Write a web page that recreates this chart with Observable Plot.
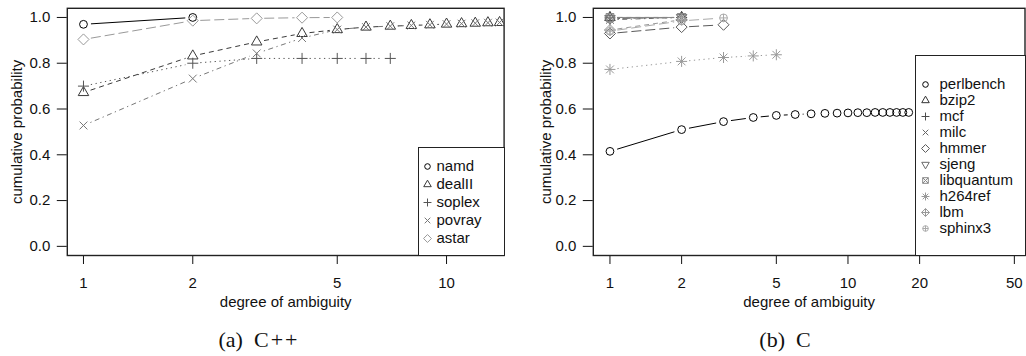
<!DOCTYPE html>
<html><head><meta charset="utf-8">
<script src="https://cdn.jsdelivr.net/npm/d3@7"></script>
<script src="https://cdn.jsdelivr.net/npm/@observablehq/plot@0.6"></script>
<style>
html,body{margin:0;padding:0;background:#fff;}
body{width:1026px;height:356px;overflow:hidden;position:relative;font-family:"Liberation Sans",Arial,sans-serif;}
.panel{position:absolute;top:0;}
.caption{position:absolute;top:325px;width:240px;text-align:center;font-family:"Liberation Serif",serif;font-size:22px;line-height:30px;color:#111;}
.caption .w{letter-spacing:2px;}
.legend{position:absolute;background:#fff;border:1.3px solid #222;box-sizing:border-box;}
.legend svg{display:block;}
</style></head><body>
<div id="left" class="panel" style="left:0"></div>
<div id="right" class="panel" style="left:513px"></div>
<div class="caption" style="left:139px">(a)&nbsp;&nbsp;<span class="w">C++</span></div>
<div class="caption" style="left:665px">(b)&nbsp;&nbsp;C</div>
<div id="legL" class="legend" style="left:418px;top:147px;width:87px;height:109px"></div>
<div id="legR" class="legend" style="left:915px;top:55px;width:111px;height:201px"></div>
<script>
// ---------- data ----------
const cppNames = ["namd", "dealII", "soplex", "povray", "astar"];
const cppDegrees = [1, 2, 3, 4, 5, 6, 7, 8, 9, 10, 11, 12, 13, 14];
const namd   = [0.970, 1.000];
const dealII = [0.672, 0.832, 0.893, 0.930, 0.947, 0.958, 0.962, 0.965, 0.968, 0.971, 0.973, 0.975, 0.977, 0.978];
const soplex = [0.700, 0.800, 0.821, 0.821, 0.821, 0.821, 0.821];
const povray = [0.528, 0.733, 0.843, 0.910, 0.947, 0.958, 0.962, 0.965, 0.968, 0.971, 0.973, 0.975, 0.977, 0.978];
const astar  = [0.904, 0.986, 0.996, 0.999, 1.000];

const cNames = ["perlbench", "bzip2", "mcf", "milc", "hmmer", "sjeng", "libquantum", "h264ref", "lbm", "sphinx3"];
const cDegrees = [1, 2, 3, 4, 5, 6, 7, 8, 9, 10, 11, 12, 13, 14, 15, 16, 17, 18];
const perlbench  = [0.415, 0.510, 0.545, 0.563, 0.572, 0.576, 0.579, 0.581, 0.582, 0.583, 0.584, 0.584, 0.585, 0.585, 0.585, 0.585, 0.585, 0.585];
const bzip2      = [1.000, 1.000];
const mcf        = [0.998, 1.000];
const milc       = [0.990, 1.000];
const hmmer      = [0.930, 0.958, 0.968];
const sjeng      = [0.995, 1.000];
const libquantum = [1.000, 1.000];
const h264ref    = [0.773, 0.808, 0.825, 0.832, 0.837];
const lbm        = [0.945, 0.990];
const sphinx3    = [0.940, 0.985, 0.998];

const yTicks = [0, 0.2, 0.4, 0.6, 0.8, 1.0];
const cppXTicks = [1, 2, 5, 10];
const cXTicks = [1, 2, 5, 10, 20, 50];
const xLabel = "degree of ambiguity";
const yLabel = "cumulative probability";

// ---------- styles ----------
const cppColors = ["#000000", "#3a3a3a", "#555555", "#777777", "#999999"];
const cppDash   = [null, "5,4", "1.3,3.5", "1.3,3.5,5,3.5", "10,4"];
const cColors   = ["#000000", "#333333", "#4d4d4d", "#666666", "#5a5a5a", "#6a6a6a", "#888888", "#999999", "#999999", "#aaaaaa"];
const cDash     = [null, "5,4", "1.3,3.5", "1.3,3.5,5,3.5", "10,4", "2.6,2.6,8,2.6", null, "1.3,3.5", "5,4", "10,4"];

// R-like plotting symbols
const T0 = Math.sqrt(4 * Math.PI / (3 * Math.sqrt(3))), T1 = T0 * Math.sqrt(3) / 2, T2 = T0 / 2;
const rad = s => Math.sqrt(s / Math.PI);
function circ(c, r) { c.moveTo(r, 0); c.arc(0, 0, r, 0, 2 * Math.PI); }
function plusP(c, r) { c.moveTo(-r, 0); c.lineTo(r, 0); c.moveTo(0, -r); c.lineTo(0, r); }
function timesP(c, r) { c.moveTo(-r, -r); c.lineTo(r, r); c.moveTo(-r, r); c.lineTo(r, -r); }
function diamP(c, r) { c.moveTo(0, -r); c.lineTo(r, 0); c.lineTo(0, r); c.lineTo(-r, 0); c.closePath(); }
const pch = {
  circle:   {draw(c, s) { circ(c, rad(s)); }},
  triUp:    {draw(c, s) { const r = rad(s); c.moveTo(0, -T0 * r); c.lineTo(T1 * r, T2 * r); c.lineTo(-T1 * r, T2 * r); c.closePath(); }},
  plus:     {draw(c, s) { plusP(c, rad(s) * Math.SQRT2); }},
  times:    {draw(c, s) { timesP(c, rad(s)); }},
  diamond:  {draw(c, s) { diamP(c, rad(s) * Math.SQRT2); }},
  triDown:  {draw(c, s) { const r = rad(s); c.moveTo(0, T0 * r); c.lineTo(T1 * r, -T2 * r); c.lineTo(-T1 * r, -T2 * r); c.closePath(); }},
  sqTimes:  {draw(c, s) { const r = rad(s); c.rect(-r, -r, 2 * r, 2 * r); timesP(c, r); }},
  aster:    {draw(c, s) { const r = rad(s); timesP(c, r); plusP(c, r * Math.SQRT2); }},
  diamPlus: {draw(c, s) { const r = rad(s) * Math.SQRT2; diamP(c, r); plusP(c, r); }},
  circPlus: {draw(c, s) { const r = rad(s); circ(c, r); plusP(c, r); }}
};
const cppSymbols = [pch.circle, pch.triUp, pch.plus, pch.times, pch.diamond];
const cSymbols = [pch.circle, pch.triUp, pch.plus, pch.times, pch.diamond, pch.triDown, pch.sqTimes, pch.aster, pch.diamPlus, pch.circPlus];

const FONT = "Liberation Sans, Arial, sans-serif";
const FS = "15px";
const SYM_R = 3.9;
const LEG_R = 2.8;
const GAP = 7.5;

function buildPanel(opt) {
  const {width, height, ml, mr, mt, mb, xDomain, yDomain, names, degrees, series, colors, dashes, symbols, xTicks, yTitleDx} = opt;
  const xs = d3.scaleLog().domain(xDomain).range([ml, width - mr]);
  const ys = d3.scaleLinear().domain(yDomain).range([height - mb, mt]);
  const rows = [];
  const marks = [];
  names.forEach((name, k) => {
    const vals = series[k];
    const pts = vals.map((v, i) => ({series: name, x: degrees[i], y: v}));
    rows.push(...pts);
    // line segments with gaps around points (R type = "b")
    const segs = [];
    for (let i = 0; i < pts.length - 1; i++) {
      const px0 = xs(pts[i].x), py0 = ys(pts[i].y), px1 = xs(pts[i + 1].x), py1 = ys(pts[i + 1].y);
      const dx = px1 - px0, dy = py1 - py0, d = Math.hypot(dx, dy);
      if (d > 2 * GAP) {
        const f = GAP / d;
        segs.push({x1: xs.invert(px0 + f * dx), y1: ys.invert(py0 + f * dy), x2: xs.invert(px1 - f * dx), y2: ys.invert(py1 - f * dy)});
      }
    }
    marks.push(Plot.link(segs, {x1: "x1", y1: "y1", x2: "x2", y2: "y2", stroke: colors[k], strokeWidth: 1, strokeDasharray: dashes[k] || undefined, clip: true}));
  });
  marks.push(Plot.dot(rows, {x: "x", y: "y", symbol: "series", stroke: "series", r: SYM_R, strokeWidth: 1, fill: "none", clip: true}));
  marks.push(Plot.axisY({ticks: yTicks, tickFormat: d3.format(".1f"), tickSize: 10, tickPadding: 7, label: null, stroke: "#111", fill: "#111"}));
  marks.push(Plot.axisX({ticks: xTicks, tickFormat: d3.format("d"), tickSize: 9, tickPadding: 13, label: null, stroke: "#111", fill: "#111"}));
  marks.push(Plot.frame({stroke: "#222", strokeWidth: 1.4}));
  marks.push(Plot.text([xLabel], {frameAnchor: "bottom", dy: 47, lineAnchor: "middle", textAnchor: "middle", fill: "#111"}));
  marks.push(Plot.text([yLabel], {frameAnchor: "left", dx: yTitleDx, rotate: -90, lineAnchor: "middle", textAnchor: "middle", fill: "#111"}));
  return Plot.plot({
    width, height, marginLeft: ml, marginRight: mr, marginTop: mt, marginBottom: mb,
    style: {fontFamily: FONT, fontSize: FS, background: "transparent", color: "#111", overflow: "visible"},
    x: {type: "log", domain: xDomain},
    y: {domain: yDomain},
    symbol: {domain: names, range: symbols},
    color: {domain: names, range: colors},
    marks
  });
}

function buildLegend(opt) {
  const {width, height, mt, mb, names, colors, symbols, symDx, textDx} = opt;
  return Plot.plot({
    width, height, marginLeft: 0, marginRight: 0, marginTop: mt, marginBottom: mb,
    style: {fontFamily: FONT, fontSize: FS, background: "transparent", color: "#111"},
    x: {axis: null}, y: {type: "point", domain: names, axis: null, padding: 0},
    symbol: {domain: names, range: symbols},
    color: {domain: names, range: colors},
    marks: [
      Plot.dot(names, {y: d => d, frameAnchor: "left", dx: symDx, symbol: d => d, stroke: d => d, r: LEG_R, strokeWidth: 1, fill: "none"}),
      Plot.text(names, {y: d => d, text: d => d, frameAnchor: "left", dx: textDx, textAnchor: "start", fill: "#111"})
    ]
  });
}

const yDomain = [-0.04, 1.04];
document.getElementById("left").append(buildPanel({
  width: 513, height: 318, ml: 66.8, mr: 9.4, mt: 7.8, mb: 63,
  xDomain: [Math.pow(10, -0.04456), Math.pow(10, 1.15856)], yDomain,
  names: cppNames, degrees: cppDegrees, series: [namd, dealII, soplex, povray, astar],
  colors: cppColors, dashes: cppDash, symbols: cppSymbols, xTicks: cppXTicks, yTitleDx: -50
}));
document.getElementById("right").append(buildPanel({
  width: 513, height: 318, ml: 79.8, mr: 1.5,  mt: 7.8, mb: 63,
  xDomain: [Math.pow(10, -0.0700), Math.pow(10, 1.7437)], yDomain,
  names: cNames, degrees: cDegrees, series: [perlbench, bzip2, mcf, milc, hmmer, sjeng, libquantum, h264ref, lbm, sphinx3],
  colors: cColors, dashes: cDash, symbols: cSymbols, xTicks: cXTicks, yTitleDx: -47
}));
document.getElementById("legL").append(buildLegend({
  width: 84, height: 106, mt: 18, mb: 16, names: cppNames, colors: cppColors, symbols: cppSymbols, symDx: 8, textDx: 17
}));
document.getElementById("legR").append(buildLegend({
  width: 108, height: 198, mt: 24, mb: 22, names: cNames, colors: cColors, symbols: cSymbols, symDx: 9, textDx: 23
}));
</script>
</body></html>
